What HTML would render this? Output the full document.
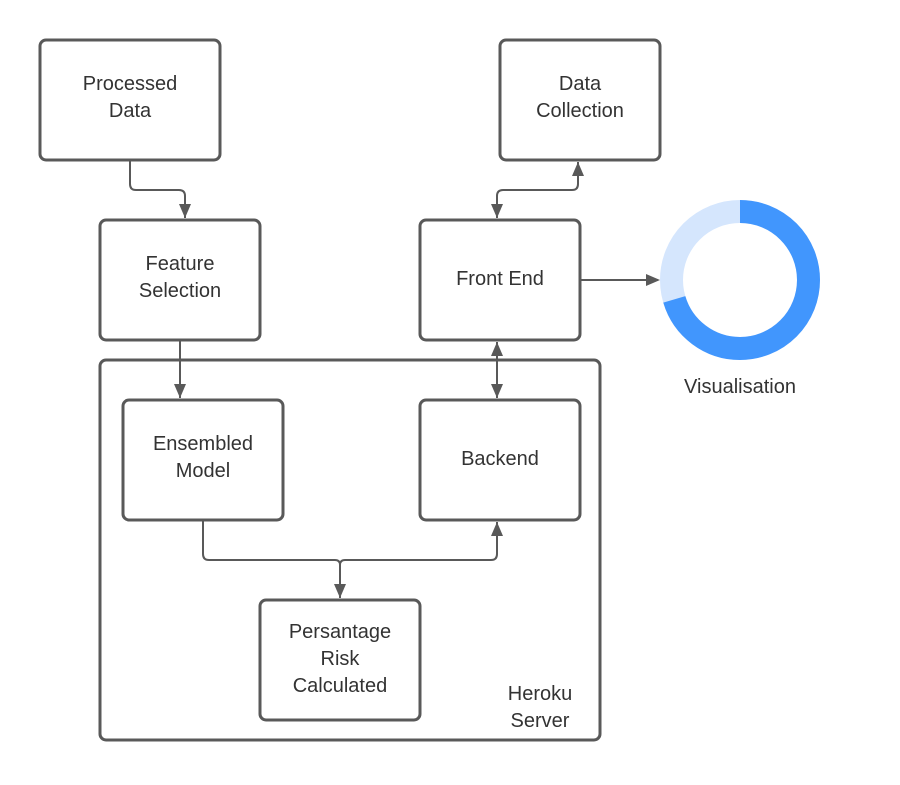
<!DOCTYPE html>
<html><head><meta charset="utf-8"><style>
body{margin:0;background:#fff}
svg text{font-family:"Liberation Sans",sans-serif;font-size:20px;fill:#333;text-anchor:middle}
</style></head><body>
<svg width="900" height="780" viewBox="0 0 900 780" xmlns="http://www.w3.org/2000/svg">
<defs><marker id="a" viewBox="0 0 10 10" refX="10" refY="5" markerWidth="5" markerHeight="5" orient="auto-start-reverse" markerUnits="userSpaceOnUse" style="overflow:visible"><path d="M0,0L10,5L0,10z" fill="#595959" transform="scale(1.2) translate(-1.7,-0.85)"/></marker></defs>
<g fill="none" stroke="#595959" stroke-width="3">
<rect x="100" y="360" width="500" height="380" rx="6"/>
<rect x="40" y="40" width="180" height="120" rx="6"/>
<rect x="500" y="40" width="160" height="120" rx="6"/>
<rect x="100" y="220" width="160" height="120" rx="6"/>
<rect x="420" y="220" width="160" height="120" rx="6"/>
<rect x="123" y="400" width="160" height="120" rx="6"/>
<rect x="420" y="400" width="160" height="120" rx="6"/>
<rect x="260" y="600" width="160" height="120" rx="6"/>
</g>
<g fill="none" stroke="#595959" stroke-width="2">
<path d="M130 160V184q0 6 6 6H179q6 0 6 6V218"/>
<path d="M578 162V184q0 6-6 6H503q-6 0-6 6V218"/>
<path d="M580 280H658"/>
<path d="M180 340V398"/>
<path d="M497 342V398"/>
<path d="M203 520V554q0 6 6 6H335q5 0 5 5q0-5 5-5H491q6 0 6-6V522"/>
<path d="M340 565V598"/>
</g>
<g fill="#595959">
<path d="M185 218l-6-14h12z"/>
<path d="M497 218l-6-14h12z"/>
<path d="M578 162l-6 14h12z"/>
<path d="M660 280l-14-6v12z"/>
<path d="M180 398l-6-14h12z"/>
<path d="M497 342l-6 14h12z"/>
<path d="M497 398l-6-14h12z"/>
<path d="M497 522l-6 14h12z"/>
<path d="M340 598l-6-14h12z"/>
</g>
<circle cx="740" cy="280" r="68.5" fill="none" stroke="#d5e6fd" stroke-width="23"/>
<circle cx="740" cy="280" r="68.5" fill="none" stroke="#4196fd" stroke-width="23" stroke-dasharray="303 500" transform="rotate(-90 740 280)"/>
<text x="130" y="90">Processed</text><text x="130" y="117">Data</text>
<text x="580" y="90">Data</text><text x="580" y="117">Collection</text>
<text x="180" y="270">Feature</text><text x="180" y="297">Selection</text>
<text x="500" y="285">Front End</text>
<text x="740" y="393">Visualisation</text>
<text x="203" y="450">Ensembled</text><text x="203" y="477">Model</text>
<text x="500" y="465">Backend</text>
<text x="340" y="638">Persantage</text><text x="340" y="665">Risk</text><text x="340" y="692">Calculated</text>
<text x="540" y="700">Heroku</text><text x="540" y="727">Server</text>
</svg>
</body></html>
